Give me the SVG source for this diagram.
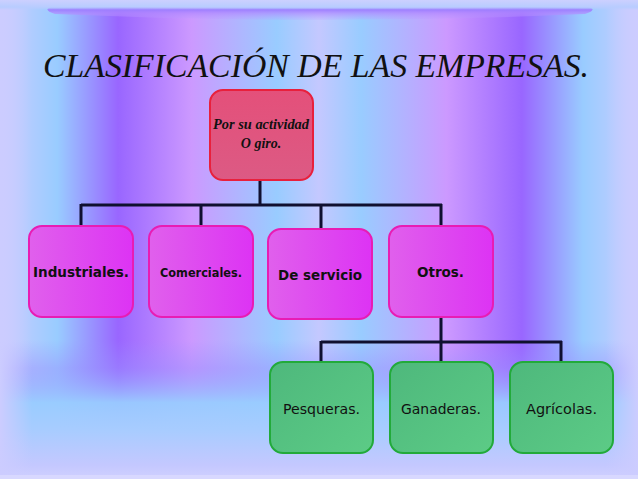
<svg xmlns="http://www.w3.org/2000/svg" width="638" height="479" viewBox="0 0 638 479">
<defs>
<linearGradient id="bgH" x1="0" y1="0" x2="638" y2="0" gradientUnits="userSpaceOnUse">
<stop offset="0" stop-color="#ccccff"/>
<stop offset="0.09" stop-color="#99ccff"/>
<stop offset="0.185" stop-color="#9966ff"/>
<stop offset="0.30" stop-color="#cc99ff"/>
<stop offset="0.434" stop-color="#99ccff"/>
<stop offset="0.5" stop-color="#c4c8ff"/>
<stop offset="0.566" stop-color="#99ccff"/>
<stop offset="0.70" stop-color="#cc99ff"/>
<stop offset="0.818" stop-color="#9966ff"/>
<stop offset="0.914" stop-color="#99ccff"/>
<stop offset="1" stop-color="#ccccff"/>
</linearGradient>
<linearGradient id="bgB" x1="0" y1="340" x2="0" y2="479" gradientUnits="userSpaceOnUse">
<stop offset="0" stop-color="#9a90ff" stop-opacity="0"/>
<stop offset="0.2" stop-color="#9a90ff" stop-opacity="0.45"/>
<stop offset="0.45" stop-color="#99ccff" stop-opacity="0.95"/>
<stop offset="0.65" stop-color="#a8ccff"/>
<stop offset="0.9" stop-color="#c4c8ff"/>
<stop offset="1" stop-color="#d0d0ff"/>
</linearGradient>
<linearGradient id="sideFade" x1="0" y1="0" x2="638" y2="0" gradientUnits="userSpaceOnUse">
<stop offset="0" stop-color="#ccccff"/>
<stop offset="0.05" stop-color="#ccccff" stop-opacity="0"/>
<stop offset="0.95" stop-color="#ccccff" stop-opacity="0"/>
<stop offset="1" stop-color="#ccccff"/>
</linearGradient>
<linearGradient id="topStrip" x1="0" y1="0" x2="0" y2="10" gradientUnits="userSpaceOnUse">
<stop offset="0" stop-color="#ccd0ff"/>
<stop offset="0.7" stop-color="#b8ccff"/>
<stop offset="1" stop-color="#b8ccff" stop-opacity="0"/>
</linearGradient>
<linearGradient id="topShade" x1="0" y1="6" x2="0" y2="22" gradientUnits="userSpaceOnUse">
<stop offset="0" stop-color="#a090ff" stop-opacity="0"/>
<stop offset="0.2" stop-color="#9a7cff"/>
<stop offset="0.45" stop-color="#b088ff" stop-opacity="0.7"/>
<stop offset="1" stop-color="#c0a0ff" stop-opacity="0"/>
</linearGradient>
<linearGradient id="mag" x1="0" y1="0" x2="1" y2="0">
<stop offset="0" stop-color="#e060ec"/>
<stop offset="1" stop-color="#dd33f4"/>
</linearGradient>
<linearGradient id="grn" x1="0" y1="0" x2="1" y2="1">
<stop offset="0" stop-color="#4eb87c"/>
<stop offset="1" stop-color="#5ccb86"/>
</linearGradient>
<linearGradient id="red" x1="0" y1="0" x2="0" y2="1">
<stop offset="0" stop-color="#e4507a"/>
<stop offset="1" stop-color="#dc5a84"/>
</linearGradient>
</defs>
<style>
.mag{fill:url(#mag);stroke:#e81cb4;stroke-width:2}
.grn{fill:url(#grn);stroke:#22aa3a;stroke-width:2}
.red{fill:url(#red);stroke:#e8203c;stroke-width:2}
.t2{font-family:"DejaVu Sans",sans-serif;font-weight:bold;fill:#111;text-anchor:start}
.t3{font-family:"DejaVu Sans",sans-serif;font-size:14px;fill:#111}
.t1{font-family:"Liberation Serif",serif;font-weight:bold;font-style:italic;font-size:14px;fill:#111;text-anchor:middle}
.ln{fill:none;stroke:#101030;stroke-width:3}
</style>
<rect x="0" y="0" width="638" height="479" fill="url(#bgH)"/>
<rect x="0" y="340" width="638" height="139" fill="url(#bgB)"/>
<rect x="0" y="0" width="638" height="479" fill="url(#sideFade)"/>
<path d="M55,6 Q320,2 585,6 Q600,9 585,14 Q320,26 55,14 Q40,9 55,6 Z" fill="url(#topShade)"/>
<rect x="0" y="0" width="638" height="10" fill="url(#topStrip)"/>
<rect x="0" y="475" width="638" height="4" fill="#d8d8ff"/>
<text x="316" y="77" font-family="Liberation Serif, serif" font-style="italic" font-size="34" fill="#111" text-anchor="middle" textLength="546" lengthAdjust="spacingAndGlyphs">CLASIFICACIÓN DE LAS EMPRESAS.</text>
<g id="connectors">
<path class="ln" d="M260,180 V205 M81,205 H442 M81,204 V226 M201,204 V226 M321,204 V229 M441,204 V226"/>
<path class="ln" d="M441,317 V342 M321,342 H562 M321,341 V362 M441,341 V362 M561,341 V362"/>
</g>
<g id="n-actividad">
<rect class="red" x="210" y="90" width="103" height="90" rx="13"/>
<text class="t1" x="261" y="129" textLength="96" lengthAdjust="spacingAndGlyphs">Por su actividad</text>
<text class="t1" x="261" y="148">O giro.</text>
</g>
<g id="n-industriales">
<rect class="mag" x="29" y="226" width="104" height="91" rx="13"/>
<text class="t2" x="33" y="277" font-size="14" textLength="96" lengthAdjust="spacingAndGlyphs">Industriales.</text>
</g>
<g id="n-comerciales">
<rect class="mag" x="149" y="226" width="104" height="91" rx="13"/>
<text class="t2" x="160" y="277" font-size="12" textLength="82" lengthAdjust="spacingAndGlyphs">Comerciales.</text>
</g>
<g id="n-servicio">
<rect class="mag" x="268" y="229" width="104" height="90" rx="13"/>
<text class="t2" x="278" y="280" font-size="14" textLength="84" lengthAdjust="spacingAndGlyphs">De servicio</text>
</g>
<g id="n-otros">
<rect class="mag" x="389" y="226" width="104" height="91" rx="13"/>
<text class="t2" x="417" y="277" font-size="14" textLength="47" lengthAdjust="spacingAndGlyphs">Otros.</text>
</g>
<g id="n-pesqueras">
<rect class="grn" x="270" y="362" width="103" height="91" rx="13"/>
<text class="t3" x="283" y="414" textLength="77" lengthAdjust="spacingAndGlyphs">Pesqueras.</text>
</g>
<g id="n-ganaderas">
<rect class="grn" x="390" y="362" width="103" height="91" rx="13"/>
<text class="t3" x="401" y="414" textLength="80" lengthAdjust="spacingAndGlyphs">Ganaderas.</text>
</g>
<g id="n-agricolas">
<rect class="grn" x="510" y="362" width="103" height="91" rx="13"/>
<text class="t3" x="526" y="414" textLength="71" lengthAdjust="spacingAndGlyphs">Agrícolas.</text>
</g>
</svg>
